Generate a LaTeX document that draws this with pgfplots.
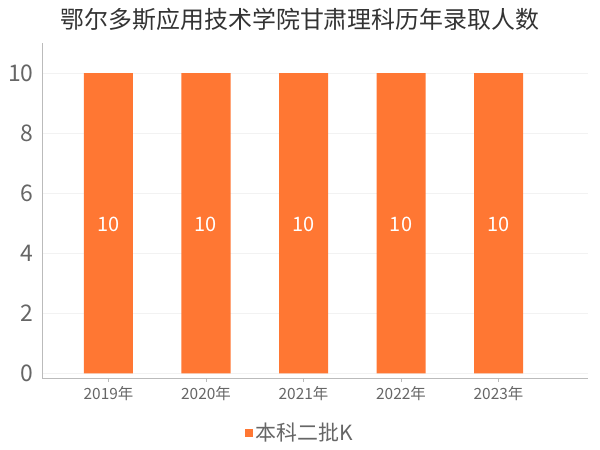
\documentclass[border=0pt]{standalone}
\usepackage{fontspec}
\setmainfont{Noto Sans CJK SC}
\usepackage{pgfplots}
\pgfplotsset{compat=1.18}
\definecolor{barorange}{HTML}{FF7733}
\definecolor{ticktext}{HTML}{666666}
\definecolor{titletext}{HTML}{333333}
\definecolor{axisgray}{HTML}{BBBBBB}
\definecolor{gridgray}{HTML}{F2F2F2}

\begin{document}
\begin{tikzpicture}[x=1bp,y=1bp]
\useasboundingbox (0,0) rectangle (600,450);
\node[text=titletext, font=\fontsize{24}{28}\selectfont] at (300,431) {鄂尔多斯应用技术学院甘肃理科历年录取人数};
\begin{axis}[
  at={(42bp,72bp)}, anchor=south west,
  scale only axis, width=546bp, height=335bp,
  xmin=-0.682, xmax=4.918, ymin=-0.15, ymax=11,
  axis lines=left, axis line style={-, draw=axisgray},
  ytick={0,2,...,10}, ymajorgrids, grid style={draw=gridgray},
  ytick style={draw=none},
  xtick={0,1,2,3,4},
  xticklabels={2019年,2020年,2021年,2022年,2023年},
  xtick style={draw=axisgray}, tick align=outside, major tick length=4bp,
  /pgf/number format/assume math mode=true,
  yticklabel style={font=\fontsize{23}{23}\selectfont, text=ticktext, xshift=-1bp},
  xticklabel style={font=\fontsize{15.5}{16}\selectfont, text=ticktext, yshift=-1bp},
  legend style={at={(0.4725,-0.164)}, anchor=center, draw=none, fill=none,
    font=\fontsize{21}{21}\selectfont, text=ticktext},
  legend image code/.code={\fill[barorange] (0bp,-4bp) rectangle (8bp,4bp);},
]
\addplot[ybar, bar width=49bp, fill=barorange, draw=none]
  coordinates {(0,10)(1,10)(2,10)(3,10)(4,10)};
\addlegendentry{本科二批K}
\addplot[draw=none, forget plot, nodes near coords, point meta=explicit symbolic,
  every node near coord/.append style={anchor=center, text=white,
    font=\fontsize{20}{20}\selectfont}]
  coordinates {(0,4.95)[10] (1,4.95)[10] (2,4.95)[10] (3,4.95)[10] (4,4.95)[10]};
\end{axis}
\end{tikzpicture}
\end{document}
